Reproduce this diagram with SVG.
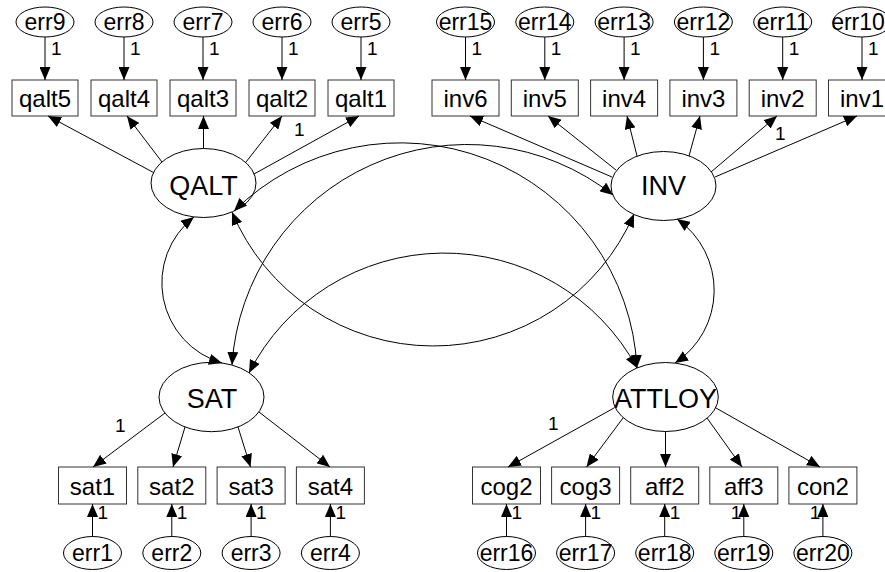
<svg xmlns="http://www.w3.org/2000/svg" width="885" height="572" viewBox="0 0 885 572">
<style>
text{font-family:"Liberation Sans",Arial,sans-serif;fill:#000}
.box{fill:#fff;stroke:#333;stroke-width:1}
.ell{fill:#fff;stroke:#000;stroke-width:1}
.obs{font-size:24px;text-anchor:middle}
.err{font-size:23px;text-anchor:middle}
.lat{font-size:27px;text-anchor:middle}
.one{font-size:19px}
.p{fill:none;stroke:#000;stroke-width:1;marker-end:url(#ah)}
.c{fill:none;stroke:#000;stroke-width:1;marker-start:url(#ah);marker-end:url(#ah)}
</style>
<defs>
<marker id="ah" viewBox="0 0 13 11" refX="13" refY="5.5" markerWidth="13" markerHeight="11" orient="auto-start-reverse" markerUnits="userSpaceOnUse"><path d="M0,0L13,5.5L0,11z" fill="#000"/></marker>
</defs>
<rect width="885" height="572" fill="#fff"/>

<g id="nodes">
<g id="QALT"><ellipse class="ell" cx="203.5" cy="183" rx="52.5" ry="34.5"/><text class="lat" x="203.5" y="195">QALT</text></g>
<g id="INV"><ellipse class="ell" cx="663.5" cy="186" rx="52.5" ry="34.5"/><text class="lat" x="663.5" y="195">INV</text></g>
<g id="SAT"><ellipse class="ell" cx="211.5" cy="397" rx="52.5" ry="34.7"/><text class="lat" x="212" y="408">SAT</text></g>
<g id="ATTLOY"><ellipse class="ell" cx="665.5" cy="397" rx="52.8" ry="34.5"/><text class="lat" x="665.5" y="408">ATTLOY</text></g>

<g id="qalt5"><rect class="box" x="12" y="80" width="66" height="36"/><text class="obs" x="45" y="107">qalt5</text></g>
<g id="qalt4"><rect class="box" x="91" y="80" width="66" height="36"/><text class="obs" x="124" y="107">qalt4</text></g>
<g id="qalt3"><rect class="box" x="170" y="80" width="66" height="36"/><text class="obs" x="203" y="107">qalt3</text></g>
<g id="qalt2"><rect class="box" x="249" y="80" width="66" height="36"/><text class="obs" x="282" y="107">qalt2</text></g>
<g id="qalt1"><rect class="box" x="328" y="80" width="66" height="36"/><text class="obs" x="361" y="107">qalt1</text></g>

<g id="inv6"><rect class="box" x="432" y="80" width="67" height="36"/><text class="obs" x="465.5" y="107">inv6</text></g>
<g id="inv5"><rect class="box" x="511.3" y="80" width="67" height="36"/><text class="obs" x="544.8" y="107">inv5</text></g>
<g id="inv4"><rect class="box" x="590.6" y="80" width="67" height="36"/><text class="obs" x="624.1" y="107">inv4</text></g>
<g id="inv3"><rect class="box" x="669.9" y="80" width="67" height="36"/><text class="obs" x="703.4" y="107">inv3</text></g>
<g id="inv2"><rect class="box" x="749.2" y="80" width="67" height="36"/><text class="obs" x="782.7" y="107">inv2</text></g>
<g id="inv1"><rect class="box" x="828.5" y="80" width="67" height="36"/><text class="obs" x="862" y="107">inv1</text></g>

<g id="sat1"><rect class="box" x="58.5" y="467" width="68" height="37"/><text class="obs" x="92.5" y="495">sat1</text></g>
<g id="sat2"><rect class="box" x="137.8" y="467" width="68" height="37"/><text class="obs" x="171.8" y="495">sat2</text></g>
<g id="sat3"><rect class="box" x="217.1" y="467" width="68" height="37"/><text class="obs" x="251.1" y="495">sat3</text></g>
<g id="sat4"><rect class="box" x="296.4" y="467" width="68" height="37"/><text class="obs" x="330.4" y="495">sat4</text></g>

<g id="cog2"><rect class="box" x="472.5" y="467" width="68" height="37"/><text class="obs" x="506.5" y="495">cog2</text></g>
<g id="cog3"><rect class="box" x="551.6" y="467" width="68" height="37"/><text class="obs" x="585.6" y="495">cog3</text></g>
<g id="aff2"><rect class="box" x="630.7" y="467" width="68" height="37"/><text class="obs" x="664.7" y="495">aff2</text></g>
<g id="aff3"><rect class="box" x="709.8" y="467" width="68" height="37"/><text class="obs" x="743.8" y="495">aff3</text></g>
<g id="con2"><rect class="box" x="788.9" y="467" width="68" height="37"/><text class="obs" x="822.9" y="495">con2</text></g>

<g id="err9"><ellipse class="ell" cx="45" cy="22" rx="29" ry="15"/><text class="err" x="45" y="30">err9</text></g>
<g id="err8"><ellipse class="ell" cx="124" cy="22" rx="29" ry="15"/><text class="err" x="124" y="30">err8</text></g>
<g id="err7"><ellipse class="ell" cx="203" cy="22" rx="29" ry="15"/><text class="err" x="203" y="30">err7</text></g>
<g id="err6"><ellipse class="ell" cx="282" cy="22" rx="29" ry="15"/><text class="err" x="282" y="30">err6</text></g>
<g id="err5"><ellipse class="ell" cx="361" cy="22" rx="29" ry="15"/><text class="err" x="361" y="30">err5</text></g>

<g id="err15"><ellipse class="ell" cx="465.5" cy="22" rx="29" ry="15"/><text class="err" x="465.5" y="30">err15</text></g>
<g id="err14"><ellipse class="ell" cx="544.8" cy="22" rx="29" ry="15"/><text class="err" x="544.8" y="30">err14</text></g>
<g id="err13"><ellipse class="ell" cx="624.1" cy="22" rx="29" ry="15"/><text class="err" x="624.1" y="30">err13</text></g>
<g id="err12"><ellipse class="ell" cx="703.4" cy="22" rx="29" ry="15"/><text class="err" x="703.4" y="30">err12</text></g>
<g id="err11"><ellipse class="ell" cx="782.7" cy="22" rx="29" ry="15"/><text class="err" x="782.7" y="30">err11</text></g>
<g id="err10"><ellipse class="ell" cx="862" cy="22" rx="29" ry="15"/><text class="err" x="858" y="30">err10</text></g>

<g id="err1"><ellipse class="ell" cx="92.5" cy="553" rx="29" ry="16.5"/><text class="err" x="92.5" y="561">err1</text></g>
<g id="err2"><ellipse class="ell" cx="171.8" cy="553" rx="29" ry="16.5"/><text class="err" x="171.8" y="561">err2</text></g>
<g id="err3"><ellipse class="ell" cx="251.1" cy="553" rx="29" ry="16.5"/><text class="err" x="251.1" y="561">err3</text></g>
<g id="err4"><ellipse class="ell" cx="330.4" cy="553" rx="29" ry="16.5"/><text class="err" x="330.4" y="561">err4</text></g>

<g id="err16"><ellipse class="ell" cx="506.5" cy="553" rx="29" ry="16.5"/><text class="err" x="506.5" y="561">err16</text></g>
<g id="err17"><ellipse class="ell" cx="585.6" cy="553" rx="29" ry="16.5"/><text class="err" x="585.6" y="561">err17</text></g>
<g id="err18"><ellipse class="ell" cx="664.7" cy="553" rx="29" ry="16.5"/><text class="err" x="664.7" y="561">err18</text></g>
<g id="err19"><ellipse class="ell" cx="743.8" cy="553" rx="29" ry="16.5"/><text class="err" x="743.8" y="561">err19</text></g>
<g id="err20"><ellipse class="ell" cx="822.9" cy="553" rx="29" ry="16.5"/><text class="err" x="822.9" y="561">err20</text></g>
</g>

<g id="connectors">
<path class="p" d="M45,37V80"/><path class="p" d="M124,37V80"/><path class="p" d="M203,37V80"/><path class="p" d="M282,37V80"/><path class="p" d="M361,37V80"/>
<path class="p" d="M465.5,37V80"/><path class="p" d="M544.8,37V80"/><path class="p" d="M624.1,37V80"/><path class="p" d="M703.4,37V80"/><path class="p" d="M782.7,37V80"/><path class="p" d="M862,37V80"/>
<path class="p" d="M92.5,536.5V504"/><path class="p" d="M171.8,536.5V504"/><path class="p" d="M251.1,536.5V504"/><path class="p" d="M330.4,536.5V504"/>
<path class="p" d="M506.5,536.5V504"/><path class="p" d="M585.6,536.5V504"/><path class="p" d="M664.7,536.5V504"/><path class="p" d="M743.8,536.5V504"/><path class="p" d="M822.9,536.5V504"/>
<path class="p" d="M153.5,172.5L48,116"/><path class="p" d="M162,162L127,116"/><path class="p" d="M203.5,148.5V116"/><path class="p" d="M246,162L282,116"/><path class="p" d="M254,174L359,116"/>
<path class="p" d="M612,177L470,116"/><path class="p" d="M616,170L548,116"/><path class="p" d="M637,156L627,116"/><path class="p" d="M689,156L700,116"/><path class="p" d="M711,172L777,116"/><path class="p" d="M715,177L857,116"/>
<path class="p" d="M165,413L93,467"/><path class="p" d="M185,427L173,467"/><path class="p" d="M238,427L250.5,467"/><path class="p" d="M259,412L330,467"/>
<path class="p" d="M614,408L508,467"/><path class="p" d="M623,418L586.5,467"/><path class="p" d="M665.5,431.5V467"/><path class="p" d="M707,418L742,467"/><path class="p" d="M716,408L820,467"/>
<path class="c" d="M194,217A83.5,83.5 0 0 0 222,363"/>
<path class="c" d="M677,219A87,87 0 0 1 675,363"/>
<path class="c" d="M232,212A218.4,218.4 0 0 0 634,214"/>
<path class="c" d="M249,373A219,219 0 0 1 637,368"/>
<path class="c" d="M234,211A237,237 0 0 1 637,368"/>
<path class="c" d="M232,365A235.7,235.7 0 0 1 613,195"/>
</g>

<g id="path-labels">
<text class="one" x="51" y="55">1</text><text class="one" x="130" y="55">1</text><text class="one" x="209" y="55">1</text><text class="one" x="288" y="55">1</text><text class="one" x="367" y="55">1</text>
<text class="one" x="471.5" y="55">1</text><text class="one" x="550.8" y="55">1</text><text class="one" x="630.1" y="55">1</text><text class="one" x="709.4" y="55">1</text><text class="one" x="788.7" y="55">1</text><text class="one" x="868" y="55">1</text>
<text class="one" x="294" y="136">1</text>
<text class="one" x="775" y="139.5">1</text>
<text class="one" x="115" y="431.5">1</text>
<text class="one" x="548" y="430">1</text>
<text class="one" x="97.5" y="519">1</text><text class="one" x="176.8" y="519">1</text><text class="one" x="256.1" y="519">1</text><text class="one" x="335.4" y="519">1</text>
<text class="one" x="511.5" y="519">1</text><text class="one" x="590.6" y="519">1</text><text class="one" x="669.7" y="519">1</text>
<text class="one" x="741.3" y="519" text-anchor="end">1</text><text class="one" x="820.4" y="519" text-anchor="end">1</text>
</g>
</svg>
